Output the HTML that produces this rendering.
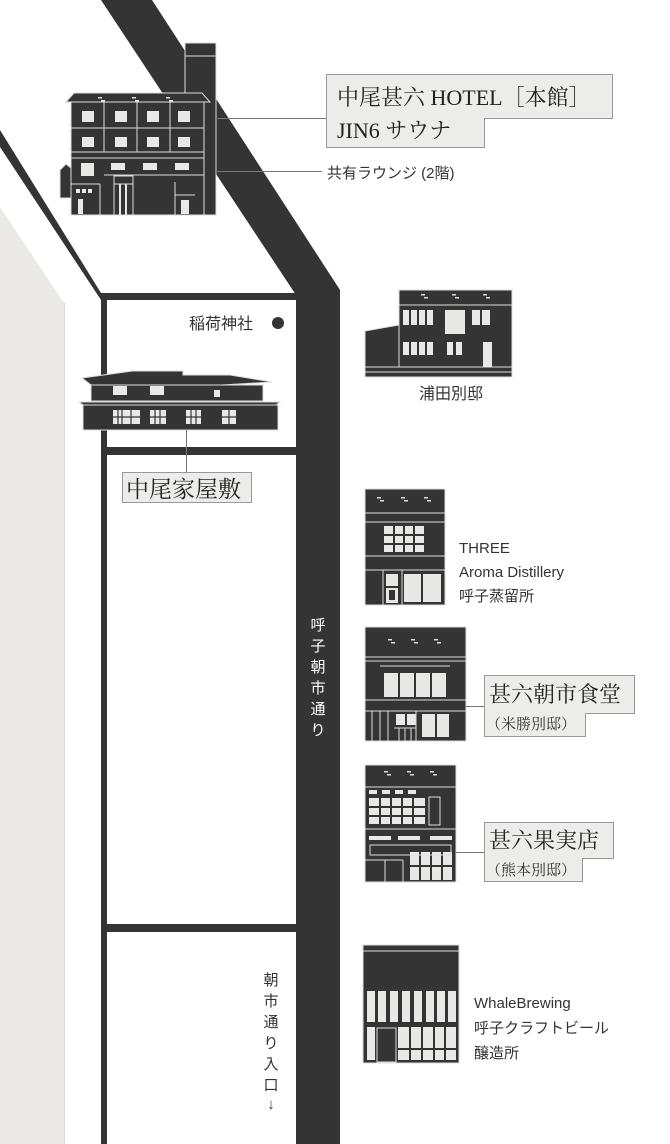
<!DOCTYPE html>
<html><head><meta charset="utf-8"><style>
html,body{margin:0;padding:0;background:#fff;}
svg{display:block}
.s{font-family:"Liberation Sans","Noto Sans CJK JP",sans-serif;}
.m{font-family:"Liberation Serif","Noto Serif CJK SC",serif;}
</style></head><body>
<svg width="670" height="1144" viewBox="0 0 670 1144" xmlns="http://www.w3.org/2000/svg">
<defs>
<g id="dots"><rect x="0" y="0" width="4" height="1.5" fill="#ddd"/><rect x="3" y="3" width="4" height="1.5" fill="#ddd"/></g>
</defs>
<!-- gray left area -->
<polygon points="0,207 64,303 64,1144 0,1144" fill="#eae9e5"/>
<line x1="64.5" y1="303" x2="64.5" y2="1144" stroke="#d8d7d3"/>
<!-- secondary road -->
<polygon points="0,130 101,293 296,293 296,300 107,300 107,1144 101,1144 101,300 0,147" fill="#343434"/>
<rect x="101" y="447" width="195" height="8" fill="#343434"/>
<rect x="101" y="924" width="195" height="8" fill="#343434"/>
<!-- main road -->
<polygon points="101,0 152,0 340,290 340,1144 296,1144 296,295" fill="#343434"/>
<text class="s" fill="#fff" font-size="15" text-anchor="middle">
<tspan x="318" y="630">呼</tspan><tspan x="318" y="651">子</tspan><tspan x="318" y="672">朝</tspan><tspan x="318" y="693">市</tspan><tspan x="318" y="714">通</tspan><tspan x="318" y="735">り</tspan></text>
<text class="s" fill="#333" font-size="15" text-anchor="middle">
<tspan x="271" y="985">朝</tspan><tspan x="271" y="1006">市</tspan><tspan x="271" y="1027">通</tspan><tspan x="271" y="1048">り</tspan><tspan x="271" y="1069">入</tspan><tspan x="271" y="1090">口</tspan><tspan x="271" y="1109">↓</tspan></text>

<!-- hotel -->
<g stroke="#ddd" stroke-width="1">
<rect x="185" y="43" width="31" height="172" fill="#343434"/>
<line x1="185" y1="56" x2="216" y2="56"/>
<polygon points="74,93 202,93 210,102 66,102" fill="#343434"/>
<rect x="71" y="102" width="133" height="113" fill="#343434"/>
<line x1="71" y1="128" x2="204" y2="128"/><line x1="71" y1="152" x2="204" y2="152"/>
<line x1="104" y1="102" x2="104" y2="152"/><line x1="137" y1="102" x2="137" y2="152"/><line x1="170" y1="102" x2="170" y2="152"/>
<line x1="71" y1="158" x2="204" y2="158"/><line x1="104" y1="175" x2="204" y2="175"/>
<polygon points="60,170 66,164 71,168 71,198 60,198" fill="#343434"/>
<line x1="71" y1="184" x2="100" y2="184"/>
<line x1="100" y1="184" x2="100" y2="215"/>
<line x1="114" y1="177" x2="114" y2="215"/><line x1="133" y1="177" x2="133" y2="215"/>
<rect x="114" y="176" width="19" height="8" fill="#343434"/>
<line x1="175" y1="182" x2="175" y2="215"/><line x1="175" y1="195" x2="195" y2="195"/>
</g>
<g fill="#e8e8e6">
<rect x="82" y="111" width="12" height="11"/><rect x="115" y="111" width="12" height="11"/><rect x="147" y="111" width="12" height="11"/><rect x="178" y="111" width="12" height="11"/>
<rect x="82" y="137" width="12" height="10"/><rect x="115" y="137" width="12" height="10"/><rect x="147" y="137" width="12" height="10"/><rect x="178" y="137" width="12" height="10"/>
<rect x="81" y="163" width="13" height="13"/><rect x="111" y="163" width="14" height="7"/><rect x="143" y="163" width="14" height="7"/><rect x="175" y="163" width="14" height="7"/>
<rect x="76" y="189" width="4" height="4"/><rect x="82" y="189" width="4" height="4"/><rect x="88" y="189" width="4" height="4"/>
<rect x="78" y="199" width="5" height="15"/><rect x="181" y="200" width="8" height="14"/>
<rect x="119" y="184" width="2" height="31"/><rect x="125" y="184" width="2" height="31"/>
</g>
<g transform="translate(98,97)"><use href="#dots"/></g><g transform="translate(132,97)"><use href="#dots"/></g><g transform="translate(166,97)"><use href="#dots"/></g>
<!-- hotel leaders -->
<line x1="216" y1="118.5" x2="326" y2="118.5" stroke="#777"/>
<line x1="216" y1="171.5" x2="322" y2="171.5" stroke="#777"/>
<path d="M326.5,74.5 H612.5 V118.5 H484.5 V147.5 H326.5 Z" fill="#ececea" stroke="#999"/>
<text class="m" x="337" y="105" font-size="22" fill="#222">中尾甚六 HOTEL［本館］</text>
<text class="m" x="337" y="138" font-size="22" fill="#222">JIN6 サウナ</text>
<text class="s" x="327" y="178" font-size="15" fill="#333">共有ラウンジ (2階)</text>

<!-- inari -->
<text class="s" x="189" y="329" font-size="16" fill="#333">稲荷神社</text>
<circle cx="278" cy="323" r="6" fill="#343434"/>

<!-- nakao house -->
<g stroke="#ddd" stroke-width="1">
<polygon points="82,378 132,371 183,371 183,375 230,375 272,382 222,385 91,385" fill="#343434"/>
<rect x="91" y="385" width="172" height="16" fill="#343434"/>
<polygon points="79,402 280,402 276,405 83,405" fill="#343434"/>
<rect x="83" y="405" width="195" height="25" fill="#343434"/>
</g>
<g fill="#e8e8e6">
<rect x="113" y="386" width="14" height="9"/><rect x="150" y="386" width="14" height="9"/><rect x="214" y="390" width="6" height="7"/>
<rect x="113" y="410" width="27" height="14"/><rect x="150" y="410" width="16" height="14"/><rect x="186" y="410" width="15" height="14"/><rect x="222" y="410" width="14" height="14"/>
</g>
<g stroke="#343434" stroke-width="1.2"><line x1="118" y1="410" x2="118" y2="424"/><line x1="122" y1="410" x2="122" y2="424"/><line x1="131" y1="410" x2="131" y2="424"/><line x1="155" y1="410" x2="155" y2="424"/><line x1="160" y1="410" x2="160" y2="424"/><line x1="191" y1="410" x2="191" y2="424"/><line x1="196" y1="410" x2="196" y2="424"/><line x1="229" y1="410" x2="229" y2="424"/><line x1="113" y1="417" x2="236" y2="417"/></g>
<line x1="186.5" y1="430" x2="186.5" y2="472" stroke="#777"/>
<rect x="122.5" y="472.5" width="129" height="30" fill="#ececea" stroke="#999"/>
<text class="m" x="126" y="497" font-size="23" fill="#222">中尾家屋敷</text>

<!-- urata -->
<g stroke="#ddd" stroke-width="1">
<rect x="399" y="290" width="113" height="15" fill="#343434"/>
<rect x="399" y="305" width="113" height="62" fill="#343434"/>
<polygon points="365,331 399,325 399,367 365,367" fill="#343434"/>
<rect x="365" y="367" width="147" height="10" fill="#343434"/>
<line x1="365" y1="372" x2="512" y2="372"/>
</g>
<g transform="translate(421,294)"><use href="#dots"/></g><g transform="translate(452,294)"><use href="#dots"/></g><g transform="translate(483,294)"><use href="#dots"/></g>
<g fill="#e8e8e6">
<rect x="403" y="310" width="6" height="15"/><rect x="411" y="310" width="6" height="15"/><rect x="419" y="310" width="6" height="15"/><rect x="427" y="310" width="6" height="15"/>
<rect x="445" y="310" width="20" height="24"/><rect x="472" y="310" width="8" height="15"/><rect x="482" y="310" width="8" height="15"/>
<rect x="403" y="342" width="6" height="13"/><rect x="411" y="342" width="6" height="13"/><rect x="419" y="342" width="6" height="13"/><rect x="427" y="342" width="6" height="13"/><rect x="447" y="342" width="6" height="13"/><rect x="456" y="342" width="6" height="13"/>
<rect x="483" y="342" width="9" height="25"/>
</g>
<text class="s" x="451" y="399" font-size="16" fill="#333" text-anchor="middle">浦田別邸</text>

<!-- THREE -->
<g stroke="#ddd" stroke-width="1">
<rect x="365" y="489" width="80" height="24" fill="#343434"/>
<rect x="365" y="513" width="80" height="92" fill="#343434"/>
<line x1="365" y1="522" x2="445" y2="522"/><line x1="365" y1="556" x2="445" y2="556"/><line x1="365" y1="570" x2="445" y2="570"/>
<line x1="383" y1="570" x2="383" y2="605"/><line x1="402" y1="570" x2="402" y2="605"/>
</g>
<g transform="translate(377,497)"><use href="#dots"/></g><g transform="translate(401,497)"><use href="#dots"/></g><g transform="translate(424,497)"><use href="#dots"/></g>
<g fill="#e8e8e6">
<rect x="384" y="526" width="40" height="26"/>
<rect x="386" y="574" width="12" height="29"/><rect x="404" y="574" width="17" height="28"/><rect x="423" y="574" width="18" height="28"/>
</g>
<g stroke="#343434" stroke-width="2"><line x1="394" y1="526" x2="394" y2="552"/><line x1="404" y1="526" x2="404" y2="552"/><line x1="414" y1="526" x2="414" y2="552"/><line x1="384" y1="535" x2="424" y2="535"/><line x1="384" y1="544" x2="424" y2="544"/><line x1="386" y1="587" x2="398" y2="587"/><line x1="422" y1="574" x2="422" y2="602"/></g>
<rect x="389" y="590" width="6" height="10" fill="#343434"/>
<text class="s" font-size="15" fill="#333"><tspan x="459" y="553">THREE</tspan><tspan x="459" y="577">Aroma Distillery</tspan><tspan x="459" y="601">呼子蒸留所</tspan></text>

<!-- asaichi shokudo -->
<g stroke="#ddd" stroke-width="1">
<rect x="365" y="627" width="101" height="30" fill="#343434"/>
<rect x="365" y="657" width="101" height="84" fill="#343434"/>
<line x1="365" y1="661" x2="466" y2="661"/><line x1="365" y1="700" x2="466" y2="700"/><line x1="365" y1="711" x2="466" y2="711"/>
<line x1="380" y1="666" x2="450" y2="666"/>
<line x1="372" y1="711" x2="372" y2="741"/><line x1="380" y1="711" x2="380" y2="741"/><line x1="388" y1="711" x2="388" y2="741"/>
</g>
<g transform="translate(388,639)"><use href="#dots"/></g><g transform="translate(411,639)"><use href="#dots"/></g><g transform="translate(434,639)"><use href="#dots"/></g>
<g fill="#e8e8e6">
<rect x="384" y="673" width="14" height="24"/><rect x="400" y="673" width="14" height="24"/><rect x="416" y="673" width="14" height="24"/><rect x="432" y="673" width="14" height="24"/>
<rect x="396" y="714" width="9" height="11"/><rect x="407" y="714" width="9" height="11"/>
<rect x="422" y="714" width="13" height="23"/><rect x="437" y="714" width="12" height="23"/>
</g>
<g stroke="#ddd"><line x1="394" y1="728" x2="416" y2="728"/><line x1="399" y1="728" x2="399" y2="741"/><line x1="405" y1="728" x2="405" y2="741"/><line x1="411" y1="728" x2="411" y2="741"/><line x1="416" y1="711" x2="416" y2="741"/></g>
<line x1="466" y1="706.5" x2="484" y2="706.5" stroke="#777"/>
<path d="M484.5,675.5 H634.5 V713.5 H585.5 V736.5 H484.5 Z" fill="#ececea" stroke="#999"/>
<text class="m" x="489" y="702" font-size="22" fill="#222">甚六朝市食堂</text>
<text class="m" x="486" y="729" font-size="15" fill="#333">（米勝別邸）</text>

<!-- kajitsuten -->
<g stroke="#ddd" stroke-width="1">
<rect x="365" y="765" width="91" height="22" fill="#343434"/>
<rect x="365" y="787" width="91" height="95" fill="#343434"/>
<line x1="365" y1="829" x2="456" y2="829"/>
<rect x="429" y="797" width="11" height="28" fill="#343434"/>
<line x1="365" y1="860" x2="403" y2="860"/><line x1="385" y1="860" x2="385" y2="882"/><line x1="403" y1="860" x2="403" y2="882"/>
</g>
<g transform="translate(384,771)"><use href="#dots"/></g><g transform="translate(407,771)"><use href="#dots"/></g><g transform="translate(430,771)"><use href="#dots"/></g>
<g fill="#e8e8e6">
<rect x="369" y="790" width="8" height="4"/><rect x="382" y="790" width="8" height="4"/><rect x="395" y="790" width="8" height="4"/><rect x="408" y="790" width="8" height="4"/>
<rect x="369" y="798" width="56" height="26"/>
<rect x="369" y="836" width="22" height="4"/><rect x="398" y="836" width="22" height="4"/><rect x="430" y="836" width="22" height="4"/>
<rect x="410" y="852" width="42" height="28"/>
</g>
<g stroke="#343434" stroke-width="2"><line x1="380" y1="798" x2="380" y2="824"/><line x1="391" y1="798" x2="391" y2="824"/><line x1="402" y1="798" x2="402" y2="824"/><line x1="413" y1="798" x2="413" y2="824"/><line x1="369" y1="807" x2="425" y2="807"/><line x1="369" y1="816" x2="425" y2="816"/><line x1="420" y1="852" x2="420" y2="880"/><line x1="431" y1="852" x2="431" y2="880"/><line x1="442" y1="852" x2="442" y2="880"/><line x1="410" y1="866" x2="452" y2="866"/></g>
<rect x="370" y="845" width="81" height="10" fill="none" stroke="#ddd"/>
<line x1="456" y1="852.5" x2="484" y2="852.5" stroke="#777"/>
<path d="M484.5,822.5 H613.5 V858.5 H582.5 V881.5 H484.5 Z" fill="#ececea" stroke="#999"/>
<text class="m" x="489" y="848" font-size="22" fill="#222">甚六果実店</text>
<text class="m" x="486" y="875" font-size="15" fill="#333">（熊本別邸）</text>

<!-- whale -->
<g stroke="#ddd" stroke-width="1">
<rect x="363" y="945" width="96" height="6" fill="#343434"/>
<rect x="363" y="951" width="96" height="112" fill="#343434"/>
</g>
<g fill="#e8e8e6">
<rect x="367" y="991" width="8" height="31"/><rect x="378" y="991" width="8" height="31"/><rect x="390" y="991" width="8" height="31"/><rect x="402" y="991" width="8" height="31"/><rect x="414" y="991" width="8" height="31"/><rect x="426" y="991" width="8" height="31"/><rect x="437" y="991" width="8" height="31"/><rect x="448" y="991" width="8" height="31"/>
<rect x="367" y="1027" width="8" height="33"/><rect x="398" y="1027" width="58" height="33"/>
</g>
<g stroke="#343434" stroke-width="2"><line x1="410" y1="1027" x2="410" y2="1060"/><line x1="422" y1="1027" x2="422" y2="1060"/><line x1="434" y1="1027" x2="434" y2="1060"/><line x1="445" y1="1027" x2="445" y2="1060"/><line x1="398" y1="1049" x2="456" y2="1049"/></g>
<rect x="377" y="1028" width="19" height="34" fill="#343434" stroke="#ddd"/>
<text class="s" font-size="15" fill="#333"><tspan x="474" y="1008">WhaleBrewing</tspan><tspan x="474" y="1033">呼子クラフトビール</tspan><tspan x="474" y="1058">醸造所</tspan></text>
</svg>
</body></html>
